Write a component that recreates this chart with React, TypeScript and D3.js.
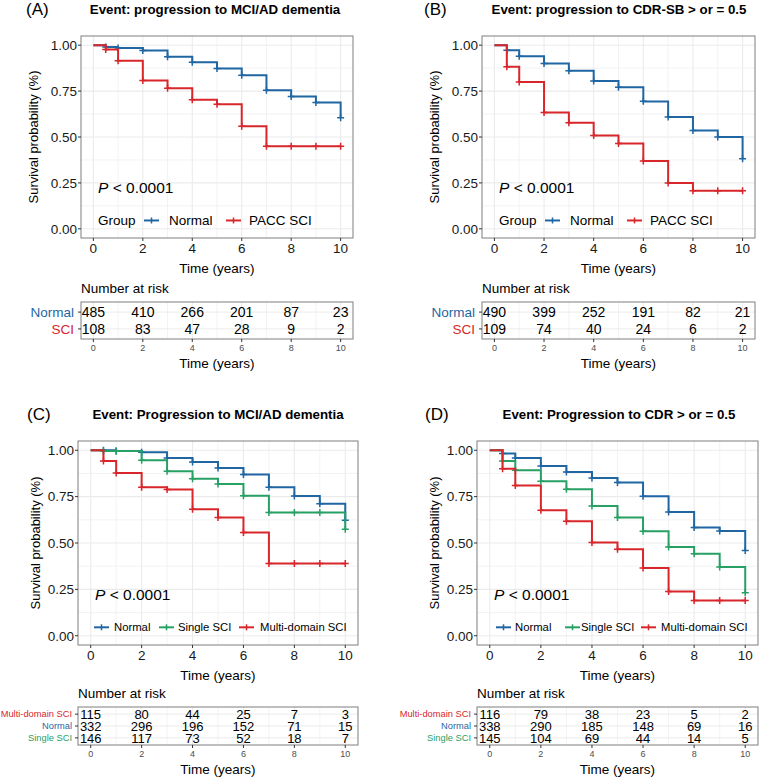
import React from "react";
import * as d3 from "d3";

// survival estimates (time points shared by all series)
const TIMES = [0, 0.5, 1, 2, 3, 4, 5, 6, 7, 8, 9, 10];
const A_NORMAL = [1, 0.99, 0.985, 0.971, 0.937, 0.907, 0.873, 0.836, 0.754, 0.72, 0.688, 0.605];
const A_SCI = [1, 0.977, 0.915, 0.807, 0.766, 0.703, 0.679, 0.559, 0.45, 0.45, 0.45, 0.45];
const B_NORMAL = [1, 0.973, 0.94, 0.9, 0.861, 0.805, 0.771, 0.694, 0.609, 0.535, 0.5, 0.382];
const B_SCI = [1, 0.883, 0.8, 0.634, 0.577, 0.508, 0.465, 0.369, 0.249, 0.207, 0.207, 0.207];
const C_NORMAL = [1, 1, 0.996, 0.989, 0.959, 0.937, 0.905, 0.869, 0.8, 0.754, 0.712, 0.622];
const C_SINGLE = [1, 0.996, 0.996, 0.946, 0.887, 0.847, 0.818, 0.755, 0.665, 0.665, 0.665, 0.574];
const C_MULTI = [1, 0.942, 0.878, 0.8, 0.788, 0.682, 0.637, 0.556, 0.389, 0.389, 0.389, 0.389];
const D_NORMAL = [1, 0.982, 0.959, 0.915, 0.883, 0.851, 0.826, 0.752, 0.667, 0.583, 0.565, 0.46];
const D_SINGLE = [1, 0.942, 0.892, 0.833, 0.79, 0.7, 0.637, 0.563, 0.478, 0.442, 0.37, 0.232];
const D_MULTI = [1, 0.9, 0.81, 0.676, 0.617, 0.503, 0.466, 0.365, 0.239, 0.19, 0.19, 0.19];

// number at risk
const RISK_TIMES = [0, 2, 4, 6, 8, 10];
const A_RISK_NORMAL = [485, 410, 266, 201, 87, 23];
const A_RISK_SCI = [108, 83, 47, 28, 9, 2];
const B_RISK_NORMAL = [490, 399, 252, 191, 82, 21];
const B_RISK_SCI = [109, 74, 40, 24, 6, 2];
const C_RISK_MULTI = [115, 80, 44, 25, 7, 3];
const C_RISK_NORMAL = [332, 296, 196, 152, 71, 15];
const C_RISK_SINGLE = [146, 117, 73, 52, 18, 7];
const D_RISK_MULTI = [116, 79, 38, 23, 5, 2];
const D_RISK_NORMAL = [338, 290, 185, 148, 69, 16];
const D_RISK_SINGLE = [145, 104, 69, 44, 14, 5];

const X_TICKS = [0, 2, 4, 6, 8, 10];
const X_MINOR = [1, 3, 5, 7, 9];
const Y_TICKS = [0, 0.25, 0.5, 0.75, 1];
const Y_MINOR = [0.125, 0.375, 0.625, 0.875];

const BLUE = "#1f66a3";
const RED = "#d8262b";
const GREEN = "#27a064";
const FONT = "Liberation Sans, Arial, sans-serif";

function KMPanel({ f, letter, title, series, risk, legend, groupLabel }) {
  const x = d3.scaleLinear().domain([-0.5, 10.5]).range([f.x0, f.x1]);
  const y = d3.scaleLinear().domain([-0.05, 1.05]).range([f.y1, f.y0]);
  const line = d3
    .line<number>()
    .x((_, i) => x(TIMES[i]))
    .y((v) => y(v))
    .curve(d3.curveStepAfter);
  // risk table rows, ggplot style discrete expansion
  const n = risk.length;
  const ry = d3
    .scaleLinear()
    .domain([-0.6, n - 1 + 0.6])
    .range([f.ty0, f.ty1]);
  const midX = (f.x0 + f.x1) / 2;
  const midY = (f.y0 + f.y1) / 2;
  const grid = "#ebebeb";
  const ly = y(0.04) - 1;

  return (
    <g fontFamily={FONT}>
      <text x={f.letterX} y={f.titleY} fontSize={17}>{letter}</text>
      <text x={f.titleX} y={f.titleY - 1} fontSize={13.3} fontWeight="bold" textAnchor="middle">
        {title}
      </text>

      {/* grid */}
      {X_MINOR.map((t) => (
        <line key={"xm" + t} x1={x(t)} x2={x(t)} y1={f.y0} y2={f.y1} stroke={grid} strokeWidth={0.6} />
      ))}
      {Y_MINOR.map((t) => (
        <line key={"ym" + t} x1={f.x0} x2={f.x1} y1={y(t)} y2={y(t)} stroke={grid} strokeWidth={0.6} />
      ))}
      {X_TICKS.map((t) => (
        <line key={"xg" + t} x1={x(t)} x2={x(t)} y1={f.y0} y2={f.y1} stroke={grid} strokeWidth={1.1} />
      ))}
      {Y_TICKS.map((t) => (
        <line key={"yg" + t} x1={f.x0} x2={f.x1} y1={y(t)} y2={y(t)} stroke={grid} strokeWidth={1.1} />
      ))}

      {/* curves */}
      {series.map((s) => (
        <g key={s.name}>
          <path d={line(s.values)} fill="none" stroke={s.color} strokeWidth={2} />
          {s.values.map((v, i) =>
            i === 0 ? null : (
              <path
                key={i}
                d={`M${x(TIMES[i]) - 3.5},${y(v)}h7M${x(TIMES[i])},${y(v) - 3.5}v7`}
                stroke={s.color}
                strokeWidth={1.5}
              />
            )
          )}
        </g>
      ))}

      <rect x={f.x0} y={f.y0} width={f.x1 - f.x0} height={f.y1 - f.y0} fill="none" stroke="#7f7f7f" strokeWidth={1} />

      {/* axes */}
      {Y_TICKS.map((t) => (
        <g key={"yt" + t}>
          <line x1={f.x0 - 3} x2={f.x0} y1={y(t)} y2={y(t)} stroke="#333" />
          <text x={f.x0 - 4} y={y(t) + 4.8} fontSize={13.5} textAnchor="end" fill="#1a1a1a">
            {d3.format(".2f")(t)}
          </text>
        </g>
      ))}
      {X_TICKS.map((t) => (
        <g key={"xt" + t}>
          <line x1={x(t)} x2={x(t)} y1={f.y1} y2={f.y1 + 3} stroke="#333" />
          <text x={x(t)} y={f.y1 + 15} fontSize={13.5} textAnchor="middle" fill="#1a1a1a">
            {t}
          </text>
        </g>
      ))}
      <text x={midX} y={f.y1 + 35} fontSize={13.5} textAnchor="middle">Time (years)</text>
      <text transform={`translate(${f.yTitleX},${midY}) rotate(-90)`} fontSize={13} textAnchor="middle">
        Survival probability (%)
      </text>

      {/* p value */}
      <text x={f.x0 + 17} y={y(0.2) + 1} fontSize={15.5}>
        <tspan fontStyle="italic">P</tspan> {"< 0.0001"}
      </text>

      {/* legend */}
      {groupLabel && (
        <text x={f.x0 + 17} y={ly + 5} fontSize={f.legFont}>Group</text>
      )}
      {legend.map((l, i) => (
        <g key={"lg" + i}>
          <line x1={f.x0 + l.lx} x2={f.x0 + l.lx + 15} y1={ly} y2={ly} stroke={series[l.s].color} strokeWidth={2} />
          <line x1={f.x0 + l.lx + 7.5} x2={f.x0 + l.lx + 7.5} y1={ly - 3} y2={ly + 3} stroke={series[l.s].color} strokeWidth={1.5} />
          <text x={f.x0 + l.tx} y={ly + f.legFont * 0.36} fontSize={f.legFont}>{series[l.s].name}</text>
        </g>
      ))}

      {/* risk table */}
      <text x={f.x0} y={f.ty0 - 9} fontSize={13.5}>Number at risk</text>
      {d3.range(0, 11).map((t) => (
        <line key={"rg" + t} x1={x(t)} x2={x(t)} y1={f.ty0} y2={f.ty1} stroke={grid} strokeWidth={t % 2 ? 0.6 : 1} />
      ))}
      {risk.map((r, j) => (
        <line key={"rh" + j} x1={f.x0} x2={f.x1} y1={ry(j)} y2={ry(j)} stroke={grid} strokeWidth={1} />
      ))}
      <rect x={f.x0} y={f.ty0} width={f.x1 - f.x0} height={f.ty1 - f.ty0} fill="none" stroke="#7f7f7f" strokeWidth={1} />
      {risk.map((r, j) => (
        <g key={"rr" + j}>
          <line x1={f.x0 - 3} x2={f.x0} y1={ry(j)} y2={ry(j)} stroke="#333" />
          <text x={f.x0 - f.rowGap} y={ry(j) + f.rowFont * 0.36} fontSize={f.rowFont} textAnchor="end" fill={r.color}>
            {r.label}
          </text>
          {r.values.map((v, i) => (
            <text key={i} x={x(RISK_TIMES[i])} y={ry(j) + f.numFont * 0.36} fontSize={f.numFont} textAnchor="middle">
              {v}
            </text>
          ))}
        </g>
      ))}
      {X_TICKS.map((t) => (
        <g key={"rt" + t}>
          <line x1={x(t)} x2={x(t)} y1={f.ty1} y2={f.ty1 + 3} stroke="#333" />
          <text x={x(t)} y={f.ty1 + 12} fontSize={9} textAnchor="middle" fill="#4d4d4d">{t}</text>
        </g>
      ))}
      <text x={midX} y={f.ty1 + 29} fontSize={13.5} textAnchor="middle">Time (years)</text>
    </g>
  );
}

const FRAME_A = { x0: 81, x1: 353, y0: 36, y1: 238, ty0: 302, ty1: 339, letterX: 26, titleX: 215, titleY: 15, yTitleX: 38, numFont: 14, rowFont: 13.5, rowGap: 7, legFont: 13.5 };
const FRAME_B = { x0: 482, x1: 755, y0: 36, y1: 238, ty0: 302, ty1: 339, letterX: 424, titleX: 619, titleY: 15, yTitleX: 439, numFont: 14, rowFont: 13.5, rowGap: 7, legFont: 13.5 };
const FRAME_C = { x0: 78, x1: 358, y0: 441, y1: 645, ty0: 707, ty1: 745, letterX: 27, titleX: 218, titleY: 420, yTitleX: 40, numFont: 13, rowFont: 9.3, rowGap: 6, legFont: 11.3 };
const FRAME_D = { x0: 477, x1: 758, y0: 441, y1: 645, ty0: 707, ty1: 745, letterX: 425, titleX: 619, titleY: 420, yTitleX: 439, numFont: 13, rowFont: 9.3, rowGap: 6, legFont: 11.3 };

const LEGEND_2 = [
  { s: 0, lx: 63, tx: 88 },
  { s: 1, lx: 145, tx: 168 },
];
const LEGEND_3C = [
  { s: 0, lx: 16, tx: 36 },
  { s: 1, lx: 81, tx: 100 },
  { s: 2, lx: 161, tx: 182 },
];
const LEGEND_3D = [
  { s: 0, lx: 19, tx: 38 },
  { s: 1, lx: 88, tx: 104 },
  { s: 2, lx: 164, tx: 184 },
];

export default function App() {
  return (
    <svg width={760} height={778} style={{ position: "absolute", left: 0, top: 0, background: "#fff" }}>
      <KMPanel
        f={FRAME_A}
        letter="(A)"
        title="Event: progression to MCI/AD dementia"
        series={[
          { name: "Normal", values: A_NORMAL, color: BLUE },
          { name: "PACC SCI", values: A_SCI, color: RED },
        ]}
        risk={[
          { label: "Normal", values: A_RISK_NORMAL, color: BLUE },
          { label: "SCI", values: A_RISK_SCI, color: RED },
        ]}
        legend={LEGEND_2}
        groupLabel
      />
      <KMPanel
        f={FRAME_B}
        letter="(B)"
        title="Event: progression to CDR-SB > or = 0.5"
        series={[
          { name: "Normal", values: B_NORMAL, color: BLUE },
          { name: "PACC SCI", values: B_SCI, color: RED },
        ]}
        risk={[
          { label: "Normal", values: B_RISK_NORMAL, color: BLUE },
          { label: "SCI", values: B_RISK_SCI, color: RED },
        ]}
        legend={LEGEND_2}
        groupLabel
      />
      <KMPanel
        f={FRAME_C}
        letter="(C)"
        title="Event: Progression to MCI/AD dementia"
        series={[
          { name: "Normal", values: C_NORMAL, color: BLUE },
          { name: "Single SCI", values: C_SINGLE, color: GREEN },
          { name: "Multi-domain SCI", values: C_MULTI, color: RED },
        ]}
        risk={[
          { label: "Multi-domain SCI", values: C_RISK_MULTI, color: RED },
          { label: "Normal", values: C_RISK_NORMAL, color: BLUE },
          { label: "Single SCI", values: C_RISK_SINGLE, color: GREEN },
        ]}
        legend={LEGEND_3C}
        groupLabel={false}
      />
      <KMPanel
        f={FRAME_D}
        letter="(D)"
        title="Event: Progression to CDR > or = 0.5"
        series={[
          { name: "Normal", values: D_NORMAL, color: BLUE },
          { name: "Single SCI", values: D_SINGLE, color: GREEN },
          { name: "Multi-domain SCI", values: D_MULTI, color: RED },
        ]}
        risk={[
          { label: "Multi-domain SCI", values: D_RISK_MULTI, color: RED },
          { label: "Normal", values: D_RISK_NORMAL, color: BLUE },
          { label: "Single SCI", values: D_RISK_SINGLE, color: GREEN },
        ]}
        legend={LEGEND_3D}
        groupLabel={false}
      />
    </svg>
  );
}
